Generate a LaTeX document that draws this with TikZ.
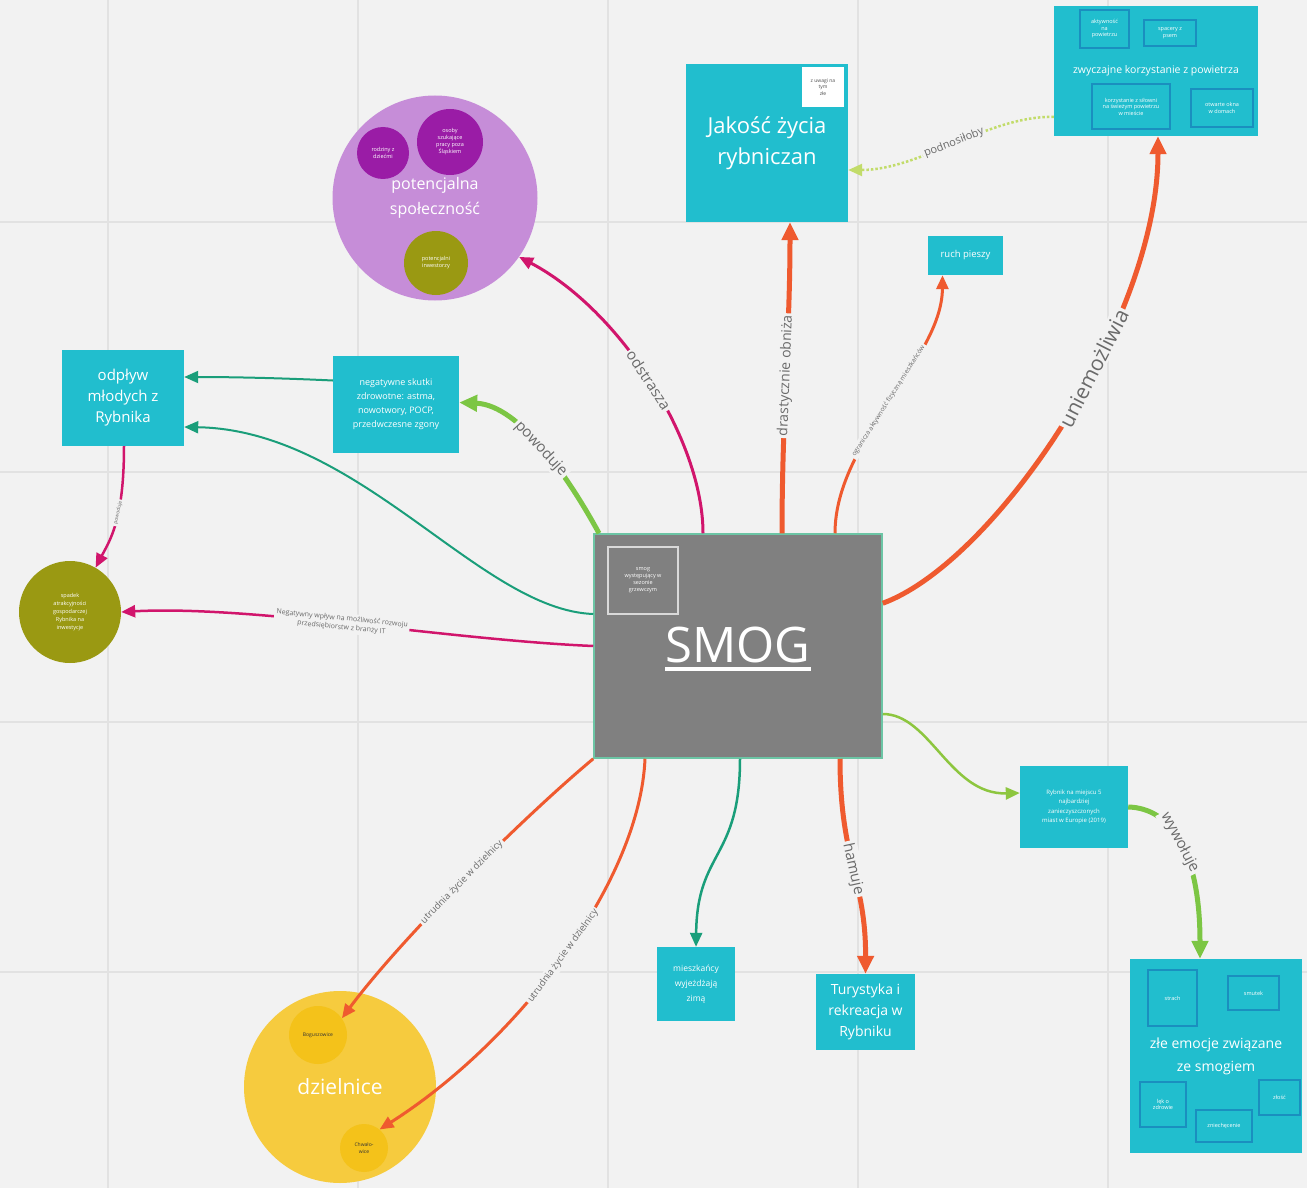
\documentclass[tikz,border=0pt]{standalone}
\usepackage{fontspec}
\setmainfont{Open Sans}
\usetikzlibrary{arrows.meta}
\definecolor{bg}{HTML}{F2F2F2}
\definecolor{gridc}{HTML}{E2E2E2}
\definecolor{tealbox}{HTML}{21BECE}
\definecolor{innerb}{HTML}{1A8FBF}
\definecolor{smoggray}{HTML}{808080}
\definecolor{smogedge}{HTML}{6CC5A5}
\definecolor{redl}{HTML}{EF5A2F}
\definecolor{magl}{HTML}{D1156C}
\definecolor{greenl}{HTML}{7CC644}
\definecolor{lgreen}{HTML}{8DC63F}
\definecolor{dotg}{HTML}{C2DC6A}
\definecolor{tealg}{HTML}{1A9E7A}
\definecolor{purl}{HTML}{C68DD8}
\definecolor{purd}{HTML}{9A1CA6}
\definecolor{olive}{HTML}{9A9912}
\definecolor{yel}{HTML}{F6CB3E}
\definecolor{yeld}{HTML}{F4C21A}
\definecolor{lblc}{HTML}{6A6A6A}
\newcommand{\fsz}[2]{\fontsize{#1pt}{#2pt}\selectfont}
\begin{document}
\begin{tikzpicture}[x=1pt,y=-1pt,
  box/.style={rectangle, fill=tealbox, text=white, align=center, inner sep=2pt},
  ibox/.style={rectangle, draw=innerb, line width=1.6pt, text=white, align=center, inner sep=1pt, font=\fsz{5.5}{6.5}},
  circ/.style={circle, inner sep=0pt, align=center, text=white},
  lbl/.style={fill=bg, text=lblc, inner sep=2pt, sloped},
  tipA/.style={-{Triangle[length=18pt,width=16pt]}},
  tipB/.style={-{Triangle[length=14pt,width=12pt]}}
]
\fill[bg] (0,0) rectangle (1307,1188);
\useasboundingbox (0,0) rectangle (1307,1188);
\foreach \gx in {108,358,608,858,1108} \draw[gridc,line width=1.5pt] (\gx,0) -- (\gx,1188);
\foreach \gy in {222,472,722,972} \draw[gridc,line width=1.5pt] (0,\gy) -- (1307,\gy);

% ---------- nodes ----------
\node[rectangle, fill=smoggray, draw=smogedge, line width=1.5pt, minimum width=288pt, minimum height=224pt] (smog) at (738,646) {};
\node[rectangle, draw=white!70!smoggray, line width=1.2pt, minimum width=70pt, minimum height=67pt, text=white, align=center, inner sep=1pt, font=\fsz{5.5}{7}] (smogin) at (643,580.5) {smog\\występujący w\\sezonie\\grzewczym};
\node[text=white, anchor=base, font=\fsz{49}{56}, inner sep=0pt] (smogtxt) at (738,662) {SMOG};
\draw[white, line width=3.5pt] ([yshift=-7pt]smogtxt.base west) -- ([yshift=-7pt]smogtxt.base east);

\node[box, minimum width=162pt, minimum height=158pt, font=\fsz{22}{31}] (jak) at (767,143) {Jakość życia\\rybniczan};
\node[rectangle, fill=white, minimum width=42pt, minimum height=40pt, align=center, inner sep=1pt, font=\fsz{5}{6.5}, text=black!70] (jakin) at (823,87) {z uwagi na\\tym\\złe};

\node[box, minimum width=204pt, minimum height=130pt, font=\fsz{10.5}{12}] (air) at (1156,71) {zwyczajne korzystanie z powietrza};
\node[ibox, minimum width=49pt, minimum height=38pt] (a1) at (1104.5,29) {aktywność\\na\\powietrzu};
\node[ibox, minimum width=52pt, minimum height=26pt] (a2) at (1170,33) {spacery z\\psem};
\node[ibox, minimum width=78pt, minimum height=45pt] (a3) at (1131,106.5) {korzystanie z siłowni\\na świeżym powietrzu\\w mieście};
\node[ibox, minimum width=62pt, minimum height=38pt] (a4) at (1222,108) {otwarte okna\\w domach};

\node[box, minimum width=75pt, minimum height=39pt, font=\fsz{9.5}{11}] (ruch) at (965.5,255.5) {ruch pieszy};

\node[circ, fill=purl, minimum size=205pt, font=\fsz{16}{25}] (pot) at (435,198) {potencjalna\\społeczność};
\node[circ, fill=purd, minimum size=52pt, font=\fsz{5.5}{7}] (p1) at (383,153) {rodziny z\\dziećmi};
\node[circ, fill=purd, minimum size=66pt, font=\fsz{5.5}{7}] (p2) at (450,142) {osoby\\szukające\\pracy poza\\Śląskiem};
\node[circ, fill=olive, minimum size=64pt, font=\fsz{5.5}{7}] (p3) at (436,263) {potencjalni\\inwestorzy};

\node[box, minimum width=122pt, minimum height=96pt, font=\fsz{15}{21}] (odp) at (123,398) {odpływ\\młodych z\\Rybnika};
\node[box, minimum width=126pt, minimum height=97pt, font=\fsz{9}{14}] (neg) at (396,404.5) {negatywne skutki\\zdrowotne: astma,\\nowotwory, POCP,\\przedwczesne zgony};

\node[circ, fill=olive, minimum size=102pt, font=\fsz{5.5}{8}] (oli) at (70,612) {spadek\\atrakcyjności\\gospodarczej\\Rybnika na\\inwestycje};

\node[box, minimum width=78pt, minimum height=74pt, font=\fsz{8.5}{15}] (mies) at (696,984) {mieszkańcy\\wyjeżdżają\\zimą};
\node[box, minimum width=99pt, minimum height=76pt, font=\fsz{14}{21}] (tur) at (865.5,1012) {Turystyka i\\rekreacja w\\Rybniku};
\node[box, minimum width=108pt, minimum height=82pt, font=\fsz{6}{9.5}] (ryb) at (1074,807) {Rybnik na miejscu 5\\najbardziej\\zanieczyszczonych\\miast w Europie (2019)};

\node[box, minimum width=172pt, minimum height=194pt, font=\fsz{14}{23}] (zle) at (1216,1056) {złe emocje związane\\ze smogiem};
\node[ibox, minimum width=49pt, minimum height=56pt] (z1) at (1172.5,998) {strach};
\node[ibox, minimum width=51pt, minimum height=34pt] (z2) at (1253.5,993) {smutek};
\node[ibox, minimum width=46pt, minimum height=45pt] (z3) at (1163,1104.5) {lęk o\\zdrowie};
\node[ibox, minimum width=56pt, minimum height=32pt] (z4) at (1224,1126) {zniechęcenie};
\node[ibox, minimum width=41pt, minimum height=35pt] (z5) at (1279.5,1097.5) {złość};

\node[circ, fill=yel, minimum size=192pt, font=\fsz{21}{24}] (dz) at (340,1087) {dzielnice};
\node[circ, fill=yeld, minimum size=58pt, font=\fsz{5}{6.5}, text=black!80] (d1) at (318,1035) {Boguszowice};
\node[circ, fill=yeld, minimum size=48pt, font=\fsz{5}{6.5}, text=black!80] (d2) at (364,1148) {Chwało-\\wice};

% ---------- connectors ----------
\draw[redl, line width=5pt, tipA] ([xshift=44pt]smog.north) .. controls (782,420) and (790,330) .. ([xshift=23pt]jak.south)
  node[lbl, pos=0.5, font=\fsz{14}{16}] {drastycznie obniża};
\draw[magl, line width=3pt, tipB] ([xshift=-35pt]smog.north) .. controls (703,440) and (620,310) .. (pot.-35)
  node[lbl, pos=0.5, font=\fsz{15}{17}] {odstrasza};
\draw[greenl, line width=5pt, tipA] ([xshift=-139pt]smog.north) .. controls (570,480) and (520,405) .. ([yshift=2pt]neg.east)
  node[lbl, pos=0.5, font=\fsz{15}{17}] {powoduje};
\draw[redl, line width=3pt, tipB] ([xshift=97pt]smog.north) .. controls (835,440) and (942,360) .. ([xshift=-23pt]ruch.south)
  node[lbl, pos=0.5, font=\fsz{6.5}{7.5}] {ogranicza aktywność fizyczną mieszkańców};
\draw[redl, line width=5pt, tipA] ([yshift=-70pt]smog.north east) .. controls (995,562) and (1158,320) .. ([xshift=2pt]air.south)
  node[lbl, pos=0.6, font=\fsz{21}{23}] {uniemożliwia};
\draw[dotg, line width=2.5pt, dotted, -{Triangle[length=14pt,width=12pt]}] ([yshift=-46pt]air.west) .. controls (990,115) and (920,170) .. ([yshift=-27pt]jak.east)
  node[lbl, pos=0.5, font=\fsz{11}{13}] {podnosiłoby};
\draw[tealg, line width=2pt, tipB] ([yshift=32pt]smog.west) .. controls (480,610) and (360,430) .. ([yshift=-29pt]odp.east);
\draw[tealg, line width=2pt, tipB] ([yshift=24pt]neg.west) .. controls (280,378) and (230,377) .. ([yshift=21pt]odp.east);
\draw[magl, line width=2.5pt, tipB] ([xshift=1pt]odp.south) .. controls (124,520) and (110,540) .. (oli.60)
  node[lbl, pos=0.4, font=\fsz{5}{6}] {powoduje};
\draw[magl, line width=2.5pt, tipB] (smog.west) .. controls (450,640) and (250,605) .. (oli.east)
  node[lbl, pos=0.52, font=\fsz{7}{9}, align=center] {Negatywny wpływ na możliwość rozwoju\\przedsiębiorstw z branży IT};
\draw[lgreen, line width=2.5pt, tipB] ([yshift=-68pt]smog.east) .. controls (930,714) and (950,795) .. ([yshift=14pt]ryb.west);
\draw[greenl, line width=5pt, tipA] (ryb.east) .. controls (1170,808) and (1200,850) .. ([xshift=-16pt]zle.north)
  node[lbl, pos=0.5, font=\fsz{15}{17}] {wywołuje};
\draw[tealg, line width=2.5pt, tipB] ([xshift=2pt]smog.south) .. controls (740,860) and (697,850) .. (mies.north);
\draw[redl, line width=5pt, tipA] ([xshift=102pt]smog.south) .. controls (840,860) and (866,880) .. (tur.north)
  node[lbl, pos=0.5, font=\fsz{15}{17}] {hamuje};
\draw[redl, line width=3pt, tipB] (smog.south west) .. controls (520,820) and (400,940) .. (d1.35)
  node[lbl, pos=0.5, font=\fsz{9.5}{11}] {utrudnia życie w dzielnicy};
\draw[redl, line width=3pt, tipB] ([xshift=-93pt]smog.south) .. controls (640,880) and (520,1040) .. (d2.50)
  node[lbl, pos=0.5, font=\fsz{9.5}{11}] {utrudnia życie w dzielnicy};
\end{tikzpicture}
\end{document}
